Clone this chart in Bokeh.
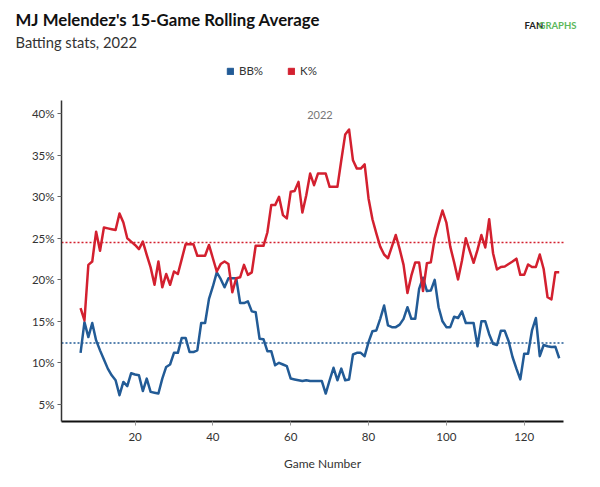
import numpy as np
from bokeh.plotting import figure
from bokeh.models import Range1d, Label, Legend, LegendItem, FixedTicker, PrintfTickFormatter
from bokeh.embed import file_html
from bokeh.resources import INLINE

# 15-game rolling averages, games 6..129
games = list(range(6, 130))

k_pct = [
    16.6, 15.1, 21.8, 22.2, 25.8, 23.5, 26.3, 26.2, 26.1, 26.0,
    28.0, 26.9, 25.0, 24.6, 24.2, 23.7, 24.6, 23.0, 21.5, 19.4,
    22.2, 19.1, 20.7, 19.4, 21.0, 20.7, 22.5, 24.3, 24.3, 24.3,
    22.9, 22.9, 22.9, 24.2, 22.6, 21.0, 21.9, 22.2, 21.9, 18.5,
    20.2, 20.3, 21.8, 20.6, 20.9, 24.1, 24.1, 24.1, 25.7, 29.0,
    29.0, 30.0, 27.8, 27.4, 30.6, 30.7, 31.8, 28.1, 30.2, 32.8,
    31.4, 32.8, 32.8, 32.8, 31.2, 31.2, 31.2, 34.4, 37.5, 38.1,
    34.4, 33.4, 33.4, 33.9, 29.8, 27.3, 25.6, 24.0, 23.05, 22.6,
    24.0, 25.4, 23.7, 21.8, 18.4, 20.5, 22.1, 22.1, 18.65, 22.0,
    22.1, 25.0, 26.75, 28.35, 26.9, 24.0, 22.1, 20.05, 22.3, 25.0,
    23.5, 22.05, 23.6, 25.4, 23.9, 27.3, 23.2, 21.25, 21.55, 21.6,
    21.9, 22.2, 22.55, 20.6, 20.6, 21.85, 21.55, 21.55, 23.05, 21.3,
    17.9, 17.65, 20.9, 20.9,
]

bb_pct = [
    11.2, 14.9, 13.1, 14.8, 12.7, 11.5, 10.4, 9.3, 8.5, 7.9,
    6.1, 7.7, 7.2, 8.75, 8.6, 8.5, 6.6, 8.1, 6.5, 6.4,
    6.3, 8.1, 9.5, 9.8, 11.2, 11.2, 13.0, 13.0, 11.3, 11.3,
    11.5, 14.8, 14.8, 17.7, 19.2, 20.9, 20.1, 19.1, 20.2, 20.2,
    20.2, 17.2, 17.2, 17.4, 16.2, 16.1, 12.9, 12.85, 11.4, 11.4,
    9.7, 10.0, 9.8, 9.6, 8.1, 8.0, 7.9, 7.8, 7.9, 7.8,
    7.8, 7.8, 7.8, 6.3, 7.9, 9.4, 7.9, 9.3, 7.9, 8.0,
    11.0, 11.2, 11.2, 10.8, 12.5, 13.8, 13.9, 15.3, 16.9, 14.5,
    14.3, 14.3, 14.6, 15.3, 16.7, 15.3, 15.3, 18.9, 20.25, 18.65,
    18.7, 20.0, 16.7, 15.0, 14.3, 14.3, 15.55, 15.4, 16.2, 14.8,
    14.8, 14.8, 12.0, 15.0, 15.0, 13.45, 12.3, 12.15, 13.85, 13.85,
    12.6, 10.7, 9.3, 8.0, 11.1, 11.1, 13.9, 15.4, 10.8, 12.15,
    12.0, 11.9, 11.95, 10.55,
]

# season averages (dotted reference lines)
k_avg = 24.5
bb_avg = 12.4

x_ticks = [20, 40, 60, 80, 100, 120]
y_ticks = [5, 10, 15, 20, 25, 30, 35, 40]

BLUE = "#225b96"
RED = "#d3202f"
FONT = "Lato"

W, H = 600, 487
# axis extents in data units and where they sit on the canvas
X_LO, X_HI = 1.1, 130.1
Y_LO, Y_HI = 2.93, 41.6
AX_LEFT, AX_RIGHT, AX_BOTTOM = 61, 563, 421
px_x = (AX_RIGHT - AX_LEFT) / (X_HI - X_LO)
px_y = 8.3

# the frame covers the whole canvas, so header texts, legend and the
# x-axis title can live inside it; both axes are pinned and cut back
p = figure(width=W, height=H, output_backend="svg", toolbar_location=None,
           title=None,
           x_range=Range1d(X_LO - AX_LEFT / px_x, X_LO + (W - AX_LEFT) / px_x),
           y_range=Range1d(Y_LO - (H - AX_BOTTOM) / px_y,
                           Y_LO + AX_BOTTOM / px_y),
           min_border=0)
p.grid.visible = False
p.outline_line_color = None

p.line([X_LO, X_HI], [k_avg, k_avg], line_color=RED, line_width=1.5,
       line_dash="2 2")
p.line([X_LO, X_HI], [bb_avg, bb_avg], line_color=BLUE, line_width=1.5,
       line_dash="2 2")

p.line(games, bb_pct, line_color=BLUE, line_width=2.5, line_join="round")
p.line(games, k_pct, line_color=RED, line_width=2.5, line_join="round")

# square swatches for the legend only (one NaN row so the legend has a colour)
nan = np.array([np.nan])
sw_bb = p.quad(left=nan, right=nan, top=nan, bottom=nan, fill_color=BLUE,
               line_color=BLUE)
sw_k = p.quad(left=nan, right=nan, top=nan, bottom=nan, fill_color=RED,
              line_color=RED)
legend = Legend(items=[LegendItem(label="BB%", renderers=[sw_bb], index=0),
                       LegendItem(label="K%", renderers=[sw_k], index=0)],
                orientation="horizontal", location=(226, H - 77),
                glyph_width=8, glyph_height=8, label_standoff=5, spacing=24,
                padding=0, margin=0, border_line_color=None,
                background_fill_alpha=0, label_text_font=FONT,
                label_text_font_size="11.5px", label_text_color="#333333")
p.add_layout(legend)

for ax in (p.xaxis, p.yaxis):
    ax.major_label_text_font = FONT
    ax.major_label_text_font_size = "11.5px"
    ax.major_label_text_color = "#333333"
    ax.minor_tick_line_color = None
    ax.major_tick_in = 0
    ax.major_tick_out = 4

p.xaxis.ticker = FixedTicker(ticks=x_ticks)
p.xaxis.fixed_location = Y_LO
p.xaxis.bounds = (X_LO, X_HI)
p.xaxis.axis_line_color = "#111111"
p.xaxis.axis_line_width = 2
p.xaxis.major_tick_line_color = "#999999"
p.xaxis.major_label_standoff = 7

p.yaxis.ticker = FixedTicker(ticks=y_ticks)
p.yaxis.formatter = PrintfTickFormatter(format="%d%%")
p.yaxis.fixed_location = X_LO
p.yaxis.bounds = (Y_LO, Y_HI)
p.yaxis.axis_line_color = "#333333"
p.yaxis.axis_line_width = 1.5
p.yaxis.major_tick_line_color = "#666666"
p.yaxis.major_label_standoff = 3


def text_at(text, x, y, size, color, style="normal", align="left"):
    # x, y: canvas pixels from the top-left corner
    p.add_layout(Label(x=x, y=H - y, x_units="screen", y_units="screen",
                       text=text, text_font=FONT, text_font_style=style,
                       text_font_size=size, text_color=color,
                       text_align=align, text_baseline="middle"))


text_at("MJ Melendez's 15-Game Rolling Average", 15, 19, "16.8px", "#111111",
        "bold")
text_at("Batting stats, 2022", 15, 41, "14.7px", "#333333")
text_at("FAN", 524, 25, "9.5px", "#222222", "bold")
text_at("GRAPHS", 576, 25, "9.5px", "#5cb85c", "bold", "right")
text_at("Game Number", 322, 463, "12px", "#333333", align="center")

p.add_layout(Label(x=(games[0] + games[-1]) / 2, y=H - 114,
                   y_units="screen", text="2022", text_font=FONT,
                   text_font_size="11px", text_color="#777777",
                   text_align="center", text_baseline="middle"))

open("out.html", "w").write(file_html(p, INLINE))
